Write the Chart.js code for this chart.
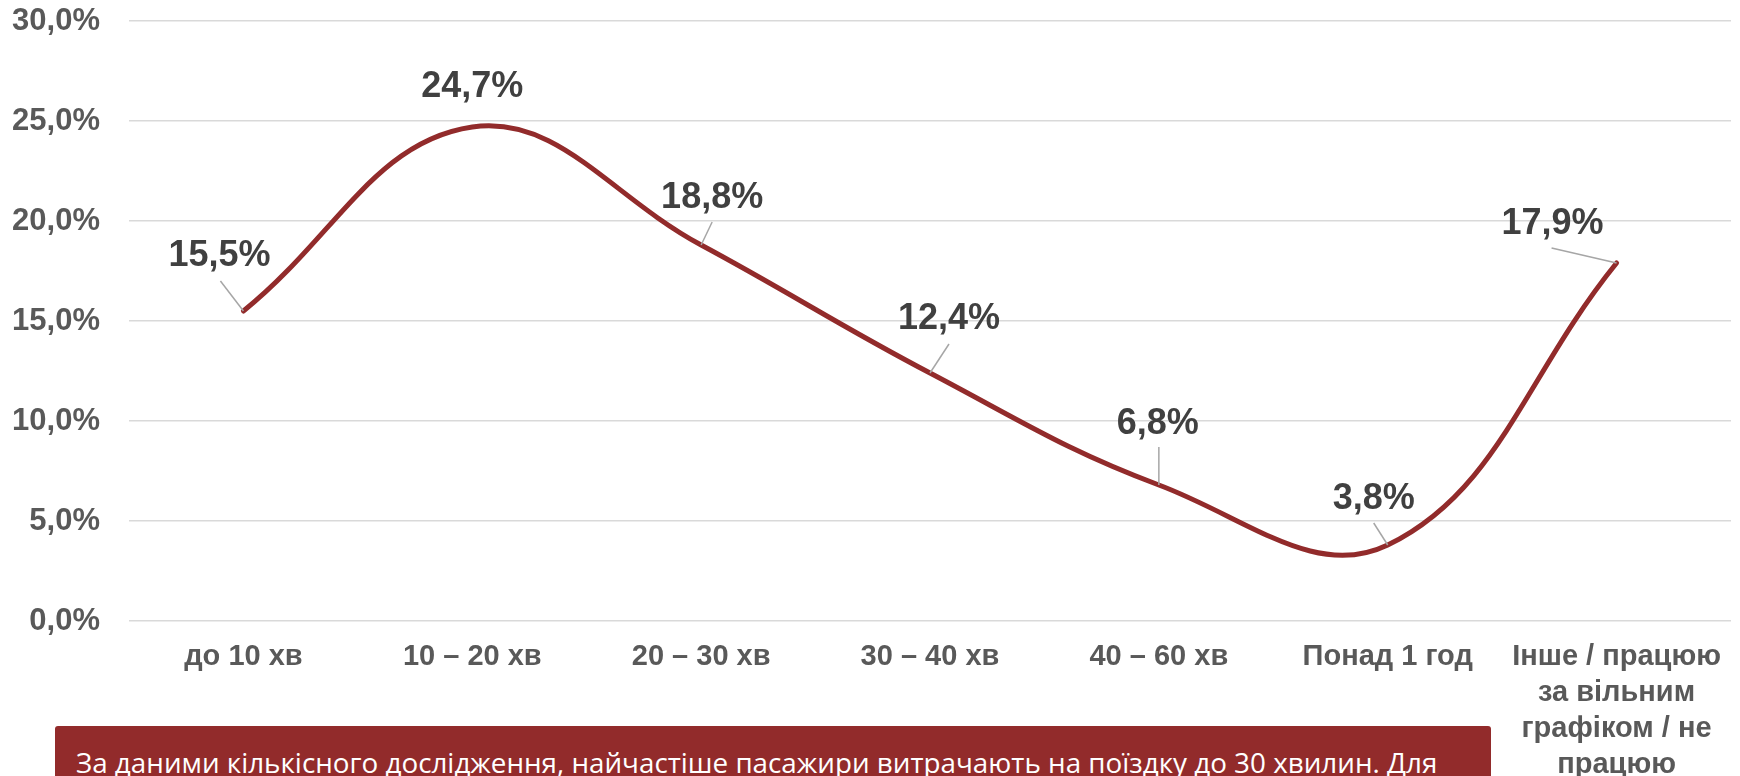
<!DOCTYPE html>
<html>
<head>
<meta charset="utf-8">
<script src="https://cdn.jsdelivr.net/npm/chart.js@4.4.0/dist/chart.umd.min.js"></script>
<style>
  html, body { margin: 0; padding: 0; background: #ffffff; overflow: hidden; }
  #wrap { position: relative; width: 1740px; height: 776px; }
  #c { position: absolute; left: 0; top: 0; }
  #note {
    position: absolute; left: 55px; top: 726px; width: 1436px; height: 70px;
    background: #922b2b; border-radius: 3px; color: #ffffff;
    font-family: "Open Sans", "Noto Sans", sans-serif; font-size: 27.8px;
    box-sizing: border-box; padding: 17px 0 0 21px; white-space: nowrap; overflow: hidden;
    line-height: 38px;
  }
</style>
</head>
<body>
<div id="wrap">
  <canvas id="c" width="1740" height="776"></canvas>
  <div id="note">За даними кількісного дослідження, найчастіше пасажири витрачають на поїздку до 30 хвилин. Для</div>
</div>
<script>
const categories = [
  'до 10 хв',
  '10 – 20 хв',
  '20 – 30 хв',
  '30 – 40 хв',
  '40 – 60 хв',
  'Понад 1 год',
  ['Інше / працюю', 'за вільним', 'графіком / не', 'працюю']
];
const shares = [15.5, 24.7, 18.8, 12.4, 6.8, 3.8, 17.9];
const yTicks = { min: 0, max: 30, step: 5 };

// label placement relative to its point (pixels): [dx, dy] of label centre, leader start or null
const labelOffsets = [[-24, -55], [0, -40], [11, -47], [19, -54], [-1, -61], [-14, -46], [-64, -39]];
const leaderStarts = [[-23, -30], null, [11, -23], [19, -29], [0, -38], [-14, -22], [-65, -15]];

const fmt = v => v.toFixed(1).replace('.', ',') + '%';

const labelPlugin = {
  id: 'pointLabels',
  afterDatasetsDraw(chart) {
    const ctx = chart.ctx;
    const meta = chart.getDatasetMeta(0);
    ctx.save();
    meta.data.forEach((pt, i) => {
      const ls = leaderStarts[i];
      if (ls) {
        ctx.beginPath();
        ctx.strokeStyle = '#a6a6a6';
        ctx.lineWidth = 1.5;
        ctx.moveTo(pt.x + ls[0], pt.y + ls[1]);
        ctx.lineTo(pt.x, pt.y);
        ctx.stroke();
      }
      const off = labelOffsets[i];
      ctx.font = 'bold 36px "Liberation Sans", Arial, sans-serif';
      ctx.fillStyle = '#404040';
      ctx.textAlign = 'center';
      ctx.textBaseline = 'middle';
      ctx.fillText(fmt(chart.data.datasets[0].data[i]), pt.x + off[0], pt.y + off[1]);
    });
    ctx.restore();
  }
};

new Chart(document.getElementById('c'), {
  type: 'line',
  data: {
    labels: categories,
    datasets: [{
      data: shares,
      borderColor: '#922b2b',
      borderWidth: 5,
      borderCapStyle: 'round',
      tension: 0.4,
      pointRadius: 0,
      pointHoverRadius: 0,
      fill: false
    }]
  },
  options: {
    responsive: false,
    animation: false,
    events: [],
    layout: { padding: { left: 0, right: 9, top: 21, bottom: 0 } },
    plugins: { legend: { display: false }, tooltip: { enabled: false } },
    scales: {
      x: {
        offset: true,
        grid: { display: false, drawTicks: false },
        border: { display: false },
        ticks: {
          autoSkip: false, maxRotation: 0, minRotation: 0, padding: 18,
          color: '#595959',
          font: { family: '"Liberation Sans", Arial, sans-serif', size: 29, weight: 'bold', lineHeight: 1.24 }
        },
        afterFit(s) { s.height = 155; }
      },
      y: {
        min: yTicks.min, max: yTicks.max,
        grid: { color: '#d9d9d9', lineWidth: 1.5, drawTicks: false },
        border: { display: false },
        ticks: {
          stepSize: yTicks.step, padding: 29,
          color: '#595959',
          font: { family: '"Liberation Sans", Arial, sans-serif', size: 31, weight: 'bold' },
          callback: v => fmt(v)
        },
        afterFit(s) { s.width = 129; s.paddingTop = 0; s.paddingBottom = 0; }
      }
    }
  },
  plugins: [labelPlugin]
});
</script>
</body>
</html>
